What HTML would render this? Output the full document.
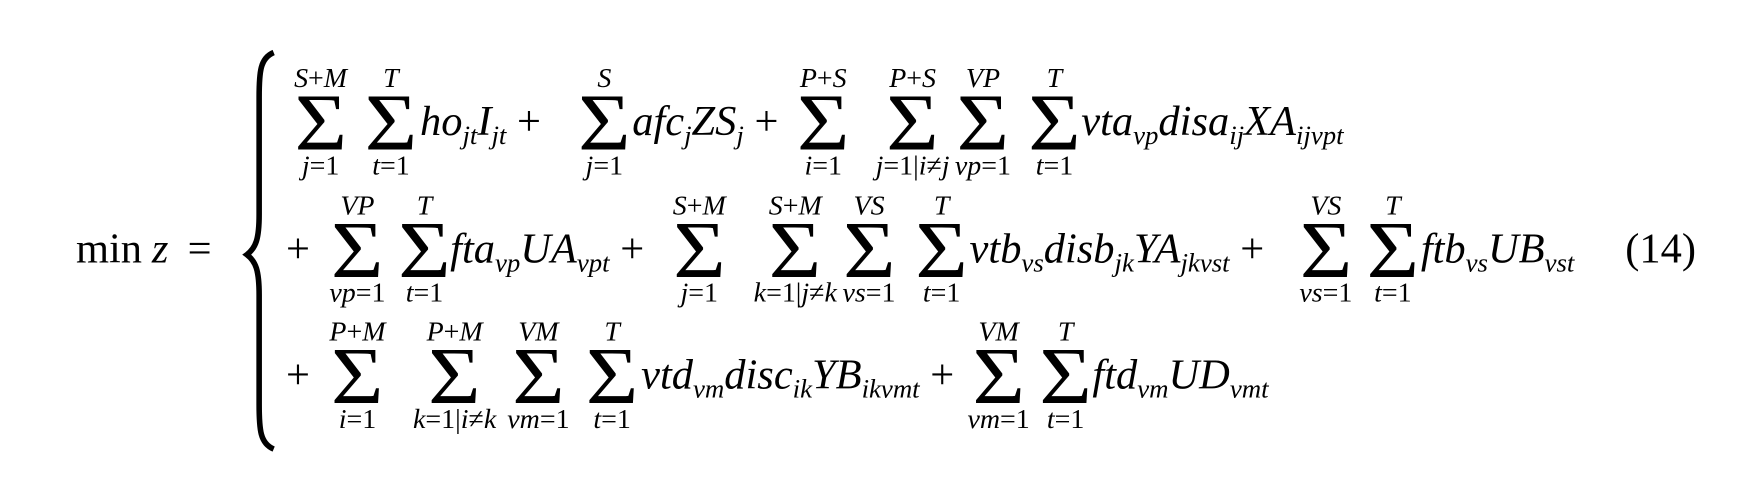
<!DOCTYPE html>
<html><head><meta charset="utf-8">
<style>
html,body{margin:0;padding:0;background:#fff;}
#wrap{position:relative;width:1752px;height:501px;overflow:hidden;}
#c{position:absolute;left:0;top:0;width:1570px;height:450px;transform:scale(1.117);transform-origin:0 0;font-family:"Liberation Serif","DejaVu Serif",serif;color:#000;}
.t{position:absolute;font-size:38px;line-height:40px;white-space:nowrap;font-style:italic;}
.t .r{font-style:normal;}
.t sub{font-size:24px;vertical-align:-8px;line-height:0;}
.op{position:absolute;transform:translateX(-50%);display:flex;flex-direction:column;align-items:center;font-style:italic;white-space:nowrap;}
.op .u,.op .l{font-size:25px;line-height:26px;}
.op .l .r,.op .u .r{font-style:normal;}
.op .s{font-size:72px;line-height:52px;font-style:normal;transform:scaleX(1.12);}
</style></head><body>
<div id="wrap">
<div id="c">
<div class="t" style="left:68px;top:203px;font-style:normal">min</div>
<div class="t" style="left:136px;top:203px">z</div>
<div class="t" style="left:168px;top:203px;font-style:normal">=</div>
<svg style="position:absolute;left:215px;top:42px" width="40" height="365">
<path d="M30 5 C18 10 17 22 17 45 L17 150 C17 172 14 180 6 186 C14 192 17 200 17 222 L17 320 C17 343 18 355 30 360" fill="none" stroke="#000" stroke-width="5"/>
</svg>

<!-- Row 1 -->
<div class="op" style="left:287px;top:58px"><span class="u">S<span class="r">+</span>M</span><span class="s">Σ</span><span class="l">j<span class="r">=1</span></span></div>
<div class="op" style="left:350px;top:58px"><span class="u">T</span><span class="s">Σ</span><span class="l">t<span class="r">=1</span></span></div>
<div class="t" style="left:376px;top:89px">ho<sub>jt</sub>I<sub>jt</sub> <span class="r">+</span></div>
<div class="op" style="left:541px;top:58px"><span class="u">S</span><span class="s">Σ</span><span class="l">j<span class="r">=1</span></span></div>
<div class="t" style="left:566px;top:89px">afc<sub>j</sub>ZS<sub>j</sub> <span class="r">+</span></div>
<div class="op" style="left:737px;top:58px"><span class="u">P<span class="r">+</span>S</span><span class="s">Σ</span><span class="l">i<span class="r">=1</span></span></div>
<div class="op" style="left:817px;top:58px"><span class="u">P<span class="r">+</span>S</span><span class="s">Σ</span><span class="l">j<span class="r">=1|</span>i<span class="r">≠</span>j</span></div>
<div class="op" style="left:880px;top:58px"><span class="u">VP</span><span class="s">Σ</span><span class="l">vp<span class="r">=1</span></span></div>
<div class="op" style="left:944px;top:58px"><span class="u">T</span><span class="s">Σ</span><span class="l">t<span class="r">=1</span></span></div>
<div class="t" style="left:968px;top:89px">vta<sub>vp</sub>disa<sub>ij</sub>XA<sub>ijvpt</sub></div>

<!-- Row 2 -->
<div class="t" style="left:256px;top:203px"><span class="r">+</span></div>
<div class="op" style="left:320px;top:172px"><span class="u">VP</span><span class="s">Σ</span><span class="l">vp<span class="r">=1</span></span></div>
<div class="op" style="left:380px;top:172px"><span class="u">T</span><span class="s">Σ</span><span class="l">t<span class="r">=1</span></span></div>
<div class="t" style="left:403px;top:203px">fta<sub>vp</sub>UA<sub>vpt</sub> <span class="r">+</span></div>
<div class="op" style="left:626px;top:172px"><span class="u">S<span class="r">+</span>M</span><span class="s">Σ</span><span class="l">j<span class="r">=1</span></span></div>
<div class="op" style="left:712px;top:172px"><span class="u">S<span class="r">+</span>M</span><span class="s">Σ</span><span class="l">k<span class="r">=1|</span>j<span class="r">≠</span>k</span></div>
<div class="op" style="left:778px;top:172px"><span class="u">VS</span><span class="s">Σ</span><span class="l">vs<span class="r">=1</span></span></div>
<div class="op" style="left:843px;top:172px"><span class="u">T</span><span class="s">Σ</span><span class="l">t<span class="r">=1</span></span></div>
<div class="t" style="left:868px;top:203px">vtb<sub>vs</sub>disb<sub>jk</sub>YA<sub>jkvst</sub> <span class="r">+</span></div>
<div class="op" style="left:1187px;top:172px"><span class="u">VS</span><span class="s">Σ</span><span class="l">vs<span class="r">=1</span></span></div>
<div class="op" style="left:1247px;top:172px"><span class="u">T</span><span class="s">Σ</span><span class="l">t<span class="r">=1</span></span></div>
<div class="t" style="left:1272px;top:203px">ftb<sub>vs</sub>UB<sub>vst</sub></div>
<div class="t" style="left:1455px;top:203px;font-style:normal">(14)</div>

<!-- Row 3 -->
<div class="t" style="left:256px;top:316px"><span class="r">+</span></div>
<div class="op" style="left:320px;top:285px"><span class="u">P<span class="r">+</span>M</span><span class="s">Σ</span><span class="l">i<span class="r">=1</span></span></div>
<div class="op" style="left:407px;top:285px"><span class="u">P<span class="r">+</span>M</span><span class="s">Σ</span><span class="l">k<span class="r">=1|</span>i<span class="r">≠</span>k</span></div>
<div class="op" style="left:482px;top:285px"><span class="u">VM</span><span class="s">Σ</span><span class="l">vm<span class="r">=1</span></span></div>
<div class="op" style="left:548px;top:285px"><span class="u">T</span><span class="s">Σ</span><span class="l">t<span class="r">=1</span></span></div>
<div class="t" style="left:574px;top:316px">vtd<sub>vm</sub>disc<sub>ik</sub>YB<sub>ikvmt</sub> <span class="r">+</span></div>
<div class="op" style="left:894px;top:285px"><span class="u">VM</span><span class="s">Σ</span><span class="l">vm<span class="r">=1</span></span></div>
<div class="op" style="left:954px;top:285px"><span class="u">T</span><span class="s">Σ</span><span class="l">t<span class="r">=1</span></span></div>
<div class="t" style="left:978px;top:316px">ftd<sub>vm</sub>UD<sub>vmt</sub></div>
</div>
</div>
</body></html>
